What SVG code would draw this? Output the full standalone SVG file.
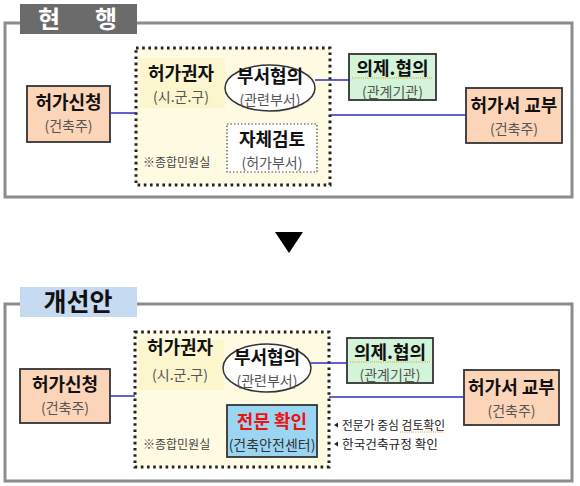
<svg xmlns="http://www.w3.org/2000/svg" width="580" height="486" viewBox="0 0 580 486">
<style>
text{font-family:"Noto Sans CJK KR","Noto Sans",sans-serif;}
.frame{fill:#fff;stroke:#8c8c8c;stroke-width:3;}
.peach{fill:#fcd5b8;stroke:#333;stroke-width:1.8;}
.green{fill:#d3f4d8;stroke:#333;stroke-width:1.8;}
.blue{fill:#9ad6f2;stroke:#333;stroke-width:1.8;}
.zone{fill:#fefbe2;stroke:#222;stroke-width:3;stroke-dasharray:2.6 3.6;}
.patch{fill:#fcf6cf;}
.ell{fill:#fff;stroke:#333;stroke-width:1.5;}
.self{fill:#fff;stroke:#444;stroke-width:1.2;stroke-dasharray:1.5 2;}
.b{font-weight:bold;font-size:18px;fill:#111;text-anchor:middle;}
.s{font-size:14px;fill:#555;text-anchor:middle;}
.note{font-size:12px;fill:#444;}
.con{stroke:#2f2fc0;stroke-width:1.5;fill:none;}
.squig{stroke:#e09a3a;stroke-width:1.2;stroke-dasharray:1 1.2;fill:none;}
</style>

<!-- 현행 -->
<g id="current-frame">
<rect class="frame" x="5" y="23" width="567" height="174"/>
<rect x="20" y="4" width="117" height="30" fill="#6b6b6b"/>
<text x="49" y="28" font-size="24" font-weight="bold" fill="#fff" text-anchor="middle">현</text>
<text x="106" y="28" font-size="24" font-weight="bold" fill="#fff" text-anchor="middle">행</text>
</g>

<g id="c-zone">
<rect class="zone" x="136" y="48" width="194" height="137"/>
<rect class="patch" x="140" y="58" width="85" height="50"/>
<text class="b" x="181" y="80">허가권자</text>
<text class="s" x="181" y="102">(시.군.구)</text>
<text class="note" x="143" y="167">※종합민원실</text>
</g>

<g id="c-apply">
<rect class="peach" x="27" y="86" width="83" height="56"/>
<text class="b" x="68.5" y="109">허가신청</text>
<text class="s" x="68.5" y="131">(건축주)</text>
</g>

<g id="c-dept">
<ellipse class="ell" cx="270" cy="88" rx="45" ry="23"/>
<text class="b" x="270" y="83">부서협의</text>
<text class="s" x="270" y="105">(관련부서)</text>
</g>

<g id="c-self">
<rect class="self" x="227" y="124" width="90" height="48"/>
<text class="b" x="272" y="146">자체검토</text>
<text class="s" x="272" y="168">(허가부서)</text>
</g>

<g id="c-agency">
<rect class="green" x="349" y="54" width="87" height="46"/>
<text class="b" x="392.5" y="75">의제.협의</text>
<line class="squig" x1="352" y1="78" x2="432" y2="78"/>
<text class="s" x="392.5" y="97">(관계기관)</text>
</g>

<g id="c-issue">
<rect class="peach" x="466" y="88" width="96" height="55"/>
<text class="b" x="514" y="112">허가서 교부</text>
<text class="s" x="514" y="134">(건축주)</text>
</g>

<g id="connectors-current">
<line class="con" x1="110" y1="113" x2="136" y2="113"/>
<line class="con" x1="315" y1="80" x2="349" y2="80"/>
<line class="con" x1="330" y1="115" x2="466" y2="115"/>
</g>

<g id="arrow">
<polygon points="275,232 303,232 289,253" fill="#000"/>
</g>

<!-- 개선안 -->
<g id="improved-frame">
<rect class="frame" x="5" y="304" width="567" height="177"/>
<rect x="20" y="287" width="117" height="30" fill="#c6daf2"/>
<text x="78" y="311" font-size="25" font-weight="bold" fill="#111" text-anchor="middle">개선안</text>
</g>

<g id="i-zone">
<rect class="zone" x="135" y="332" width="194" height="135"/>
<rect class="patch" x="139" y="340" width="85" height="50"/>
<text class="b" x="180" y="354">허가권자</text>
<text class="s" x="180" y="380">(시.군.구)</text>
<text class="note" x="143" y="449">※종합민원실</text>
</g>

<g id="i-apply">
<rect class="peach" x="20" y="369" width="90" height="54"/>
<text class="b" x="65" y="391">허가신청</text>
<text class="s" x="65" y="413">(건축주)</text>
</g>

<g id="i-dept">
<ellipse class="ell" cx="267" cy="368" rx="44" ry="24"/>
<text class="b" x="267" y="364">부서협의</text>
<text class="s" x="267" y="386">(관련부서)</text>
</g>

<g id="i-expert">
<rect class="blue" x="227" y="405" width="90" height="52"/>
<text class="b" x="272" y="428" style="fill:#ee1111">전문 확인</text>
<text class="s" x="272" y="450" style="fill:#333">(건축안전센터)</text>
</g>

<g id="i-agency">
<rect class="green" x="347" y="338" width="86" height="45"/>
<text class="b" x="390" y="359">의제.협의</text>
<line class="squig" x1="350" y1="362" x2="430" y2="362"/>
<text class="s" x="390" y="380">(관계기관)</text>
</g>

<g id="i-issue">
<rect class="peach" x="464" y="370" width="95" height="55"/>
<text class="b" x="511.5" y="394">허가서 교부</text>
<text class="s" x="511.5" y="416">(건축주)</text>
</g>

<g id="i-notes">
<polygon points="334,425 338,422.5 338,427.5" fill="#222"/>
<text x="342" y="430" font-size="12" fill="#222" textLength="103" lengthAdjust="spacingAndGlyphs">전문가 중심 검토확인</text>
<line class="squig" x1="400" y1="432" x2="443" y2="432"/>
<polygon points="334,444 338,441.5 338,446.5" fill="#222"/>
<text x="342" y="449" font-size="12" fill="#222" textLength="96" lengthAdjust="spacingAndGlyphs">한국건축규정 확인</text>
</g>

<g id="connectors-improved">
<line class="con" x1="110" y1="396" x2="135" y2="396"/>
<line class="con" x1="311" y1="363" x2="347" y2="363"/>
<line class="con" x1="329" y1="397" x2="464" y2="397"/>
</g>
</svg>
